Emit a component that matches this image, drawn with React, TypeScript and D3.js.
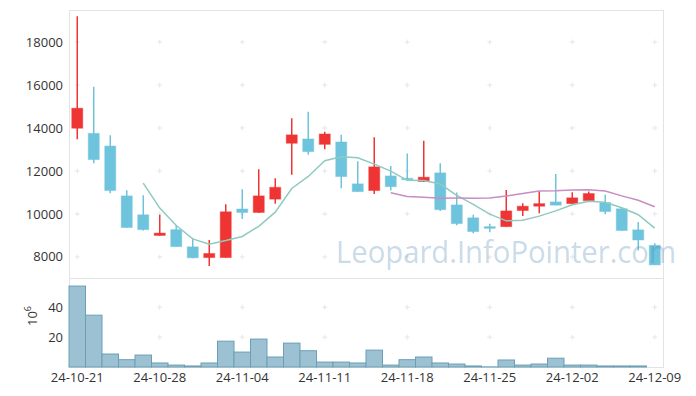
import * as d3 from "d3";

const dates = [
  "2024-10-21", "2024-10-22", "2024-10-23", "2024-10-24", "2024-10-25",
  "2024-10-28", "2024-10-29", "2024-10-30", "2024-10-31", "2024-11-01",
  "2024-11-04", "2024-11-05", "2024-11-06", "2024-11-07", "2024-11-08",
  "2024-11-11", "2024-11-12", "2024-11-13", "2024-11-14", "2024-11-15",
  "2024-11-18", "2024-11-19", "2024-11-20", "2024-11-21", "2024-11-22",
  "2024-11-25", "2024-11-26", "2024-11-27", "2024-11-28", "2024-11-29",
  "2024-12-02", "2024-12-03", "2024-12-04", "2024-12-05", "2024-12-06",
  "2024-12-09",
];
const opens = [13990, 13750, 13160, 10840, 9960, 9000, 9270, 8470, 7970, 7970, 10230, 10070, 10690, 13290, 13490, 13240, 13350, 11400, 11090, 11770, 11660, 11510, 11910, 10420, 9820, 9410, 9410, 10160, 10360, 10560, 10480, 10620, 10530, 10240, 9260, 8540];
const closes = [14920, 12530, 11090, 9370, 9270, 9110, 8480, 7960, 8160, 10100, 10070, 10840, 11240, 13680, 12900, 13720, 11740, 11040, 12190, 11270, 11590, 11710, 10200, 9550, 9180, 9330, 10140, 10360, 10480, 10410, 10750, 10950, 10110, 9230, 8790, 7630];
const highs = [19200, 15920, 13660, 11100, 10870, 9960, 9490, 8860, 8790, 10450, 11150, 12080, 11660, 14450, 14760, 13830, 13680, 12450, 13570, 12230, 12810, 13410, 12360, 11000, 9960, 9540, 11120, 10500, 11040, 11860, 11010, 11040, 10890, 10300, 9620, 8640];
const lows = [13480, 12360, 10960, 9360, 9230, 8990, 8480, 7940, 7580, 7960, 9770, 10040, 10470, 11820, 12750, 13010, 11200, 11030, 10930, 11090, 11580, 11500, 10140, 9480, 9100, 9150, 9400, 9910, 10030, 10400, 10470, 10610, 9990, 9220, 8300, 7620];
// volume in millions
const volumes = [54.2, 34.7, 8.7, 4.9, 8.0, 2.7, 1.3, 0.7, 2.7, 17.3, 10.0, 18.7, 6.7, 16.0, 10.9, 3.3, 3.3, 2.7, 11.3, 1.3, 4.9, 6.7, 2.7, 2.0, 0.7, 0.1, 4.7, 1.3, 2.0, 5.9, 1.3, 1.3, 0.7, 0.7, 0.7, 0];
const priceTicks = [8000, 10000, 12000, 14000, 16000, 18000];
const volumeTicks = [20, 40];
const maPeriods = [5, 20];
const maColors = ["#8fcac1", "#c98cc3"];

const W = 696;
const H = 396;
const left = 69;
const right = 663;
const top = 10;
const mid = 278;
const bottom = 367;
const font = "'Open Sans', 'Noto Sans', sans-serif";

const movingAverage = (n: number) =>
  closes.map((_, i) => (i < n - 1 ? null : d3.mean(closes.slice(i - n + 1, i + 1))));

export default function App() {
  const idx = dates.map((_, i) => i);
  const x = d3.scaleBand<number>().domain(idx).range([left, right]).padding(0);
  const cx = (i: number) => (x(i) as number) + x.bandwidth() / 2;
  const y = d3.scaleLinear().domain([7020, 19490]).range([mid, top]);
  const yv = d3.scaleLinear().domain([0, 59.6]).range([bottom, mid]);
  const bodyW = 11;
  const fmt = d3.timeFormat("%y-%m-%d");
  const parse = d3.timeParse("%Y-%m-%d");
  const tickIdx = idx.filter((i) => i % 5 === 0);

  const line = d3
    .line<number | null | undefined>()
    .defined((d) => d != null)
    .x((_, i) => cx(i))
    .y((d) => y(d as number));

  const cross = (px: number, py: number, k: string) => (
    <g key={k} stroke="#e6e6e6" strokeWidth={1}>
      <line x1={px - 2.5} x2={px + 2.5} y1={py} y2={py} />
      <line x1={px} x2={px} y1={py - 2.5} y2={py + 2.5} />
    </g>
  );

  return (
    <svg width={W} height={H} style={{ position: "absolute", left: 0, top: 0, fontFamily: font }}>
      <rect width={W} height={H} fill="#fff" />
      {/* frame */}
      <g stroke="#e3e3e3" fill="none" shapeRendering="crispEdges">
        <rect x={left} y={top} width={right - left} height={bottom - top} />
        <line x1={left} x2={right} y1={mid} y2={mid} />
      </g>
      {/* grid crosses */}
      {tickIdx.map((i) => priceTicks.map((t) => cross(cx(i), y(t), `p${i}-${t}`)))}
      {tickIdx.map((i) => volumeTicks.map((t) => cross(cx(i), yv(t), `v${i}-${t}`)))}

      {/* volume */}
      {volumes.map((v, i) =>
        v > 0 ? (
          <rect
            key={i}
            x={x(i)}
            y={yv(v)}
            width={x.bandwidth()}
            height={bottom - yv(v)}
            fill="#9cc1d2"
            stroke="#6c9fb6"
            strokeWidth={1}
          />
        ) : null
      )}

      {/* candles */}
      {idx.map((i) => {
        const up = closes[i] >= opens[i];
        const c = up ? "#ef3434" : "#6ec4dc";
        const y0 = y(Math.max(opens[i], closes[i]));
        const y1 = y(Math.min(opens[i], closes[i]));
        return (
          <g key={i}>
            <line x1={cx(i)} x2={cx(i)} y1={y(highs[i])} y2={y(lows[i])} stroke={c} strokeWidth={1.5} />
            <rect
              x={cx(i) - bodyW / 2}
              y={y0}
              width={bodyW}
              height={Math.max(1.5, y1 - y0)}
              fill={c}
              stroke={c}
              strokeOpacity={0.45}
              strokeWidth={1}
            />
          </g>
        );
      })}

      {/* moving averages */}
      {maPeriods.map((n, k) => (
        <path key={n} d={line(movingAverage(n)) ?? ""} fill="none" stroke={maColors[k]} strokeWidth={1.5} />
      ))}

      {/* watermark */}
      <text
        x={336}
        y={263}
        fontSize={31}
        fill="#4682b4"
        fillOpacity={0.3}
        fontFamily={font}
        textLength={340}
        lengthAdjust="spacingAndGlyphs"
      >
        Leopard.InfoPointer.com
      </text>

      {/* y axes */}
      <g fontSize={13} fill="#333" textAnchor="end">
        {priceTicks.map((t) => (
          <text key={t} x={63} y={y(t)} dy="0.35em">
            {t}
          </text>
        ))}
        {volumeTicks.map((t) => (
          <text key={t} x={63} y={yv(t)} dy="0.35em">
            {t}
          </text>
        ))}
      </g>
      <text transform="translate(37,326) rotate(-90)" fontSize={13} fill="#333">
        10<tspan dy={-6} fontSize={9}>6</tspan>
      </text>

      {/* x axis */}
      <g fontSize={13} fill="#333" textAnchor="middle">
        {tickIdx.map((i) => (
          <text key={i} x={cx(i)} y={382}>
            {fmt(parse(dates[i]) as Date)}
          </text>
        ))}
      </g>
    </svg>
  );
}
